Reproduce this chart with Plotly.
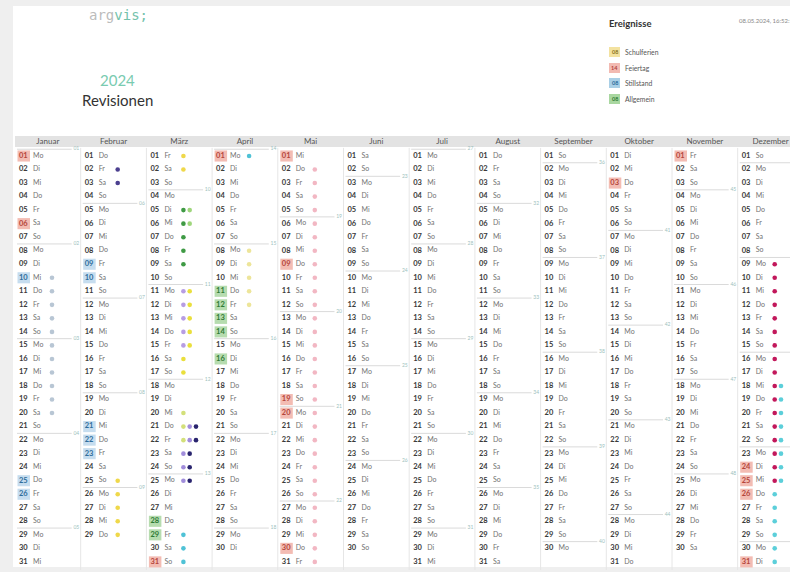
import datetime as dt
import plotly.graph_objects as go

YEAR = 2024
month_names = ["Januar", "Februar", "März", "April", "Mai", "Juni", "Juli",
               "August", "September", "Oktober", "November", "Dezember"]
weekday_names = ["Mo", "Di", "Mi", "Do", "Fr", "Sa", "So"]

# highlighted days (month, day)
feiertag_days = [(1, 1), (1, 6), (3, 31), (4, 1), (5, 1), (5, 9), (5, 19), (5, 20), (5, 30),
                 (10, 3), (11, 1), (12, 24), (12, 25), (12, 26), (12, 31)]
stillstand_days = [(1, 10), (1, 25), (1, 26), (2, 9), (2, 10), (2, 21), (2, 22), (2, 23)]
allgemein_days = [(3, 28), (3, 29), (4, 11), (4, 12), (4, 13), (4, 14), (4, 16)]
schulferien_days = []

# revision events (dots)
event_start = [(1, 10), (2, 2), (2, 25), (3, 1), (3, 5), (3, 5), (3, 11), (3, 11), (3, 20),
               (3, 21), (3, 21), (3, 29), (4, 8), (5, 2), (12, 9), (12, 18)]
event_end = [(1, 20), (2, 3), (2, 29), (3, 2), (3, 9), (3, 6), (3, 15), (3, 17), (3, 22),
             (3, 25), (3, 25), (4, 1), (4, 12), (5, 31), (12, 25), (12, 31)]
event_color = ["#b8c6d4", "#4b3f8f", "#efd84a", "#efd84a", "#3f9a44", "#9fd67c", "#b79de3",
               "#eadf3c", "#d3e07a", "#a18ddb", "#29246e", "#4fc2d6", "#ede59a", "#f2b7c3",
               "#c2185b", "#5ccfda"]

legend_labels = ["Schulferien", "Feiertag", "Stillstand", "Allgemein"]
legend_numbers = ["08", "14", "08", "08"]
legend_colors = ["#f3e2a0", "#f2bab2", "#a9cfe6", "#a9d7a0"]
legend_text_colors = ["#8a7420", "#b0413a", "#2a6c9c", "#2e7a35"]

timestamp = "08.05.2024, 16:52:10"

# ---------- geometry ----------
W, H = 790, 572
X0, COLW = 15.0, 65.7
Y1, ROWH = 156.0, 13.53

def px(p):
    return p / COLW

cat_bg = {"F": "#f3bcb3", "S": "#c6ddef", "A": "#b6dcaf", "U": "#f3e2a0"}
cat_txt = {"F": "#b5453b", "S": "#2f6d9c", "A": "#2f7a35", "U": "#8a7420"}
cat_of = {}
for md in feiertag_days:
    cat_of[md] = "F"
for md in stillstand_days:
    cat_of[md] = "S"
for md in allgemein_days:
    cat_of[md] = "A"
for md in schulferien_days:
    cat_of[md] = "U"

shapes = []
# white panel
shapes.append(dict(type="rect", xref="paper", yref="paper", x0=13 / W, x1=1,
                   y0=1 - 567 / H, y1=1 - 6 / H, fillcolor="white", line_width=0, layer="below"))
# month header band
shapes.append(dict(type="rect", xref="x", yref="y", x0=0, x1=12, y0=-0.48, y1=0.34,
                   fillcolor="#e3e3e3", line_width=0, layer="below"))
# vertical separators
for m in range(1, 12):
    shapes.append(dict(type="line", xref="x", yref="y", x0=m, x1=m, y0=0.4, y1=31.6,
                       line=dict(color="#e6e6e6", width=1), layer="below"))

num_x, num_y, num_t, num_c = [], [], [], []
wd_x, wd_y, wd_t = [], [], []
dot_x, dot_y, dot_c = [], [], []
wl_x, wl_y = [], []
wk_x, wk_y, wk_t = [], [], []

for m in range(12):
    d = dt.date(YEAR, m + 1, 1)
    while d.month == m + 1:
        day = d.day
        key = (m + 1, day)
        num_x.append(m + px(4))
        num_y.append(day)
        num_t.append(f"{day:02d}")
        wd_x.append(m + px(18))
        wd_y.append(day)
        wd_t.append(weekday_names[d.weekday()])
        if key in cat_of:
            c = cat_of[key]
            shapes.append(dict(type="rect", xref="x", yref="y", x0=m + px(2.5), x1=m + px(15),
                               y0=day - 0.41, y1=day + 0.41, fillcolor=cat_bg[c],
                               line_width=0, layer="below"))
            num_c.append(cat_txt[c])
        else:
            num_c.append("#3a3a3a")
        k = 0
        for s, e, col in zip(event_start, event_end, event_color):
            if s <= key <= e:
                dot_x.append(m + px(37 + 6.3 * k))
                dot_y.append(day)
                dot_c.append(col)
                k += 1
        # week separators
        if d.weekday() == 0:
            yb = day - 0.5
            wl_x += [m + px(2), m + 1 - px(9), None]
            wl_y += [yb, yb, None]
            wk_x.append(m + 1 - px(1.5))
            wk_y.append(yb)
            wk_t.append(f"{d.isocalendar()[1]:02d}")
        d += dt.timedelta(days=1)

FONT = "Lato"
traces = [
    go.Scatter(x=wl_x, y=wl_y, mode="lines", line=dict(color="#dadada", width=1),
               hoverinfo="skip"),
    go.Scatter(x=wk_x, y=wk_y, mode="text", text=wk_t, textposition="middle left",
               textfont=dict(family=FONT, size=5, color="#9dbfbd"), hoverinfo="skip"),
    go.Scatter(x=num_x, y=num_y, mode="text", text=num_t, textposition="middle right",
               textfont=dict(family=FONT, size=7.5, color=num_c, weight="bold"), hoverinfo="skip"),
    go.Scatter(x=wd_x, y=wd_y, mode="text", text=wd_t, textposition="middle right",
               textfont=dict(family=FONT, size=7, color="#727272"), hoverinfo="skip"),
    go.Scatter(x=dot_x, y=dot_y, mode="markers",
               marker=dict(size=4.6, color=dot_c, line_width=0), hoverinfo="skip"),
    go.Scatter(x=[m + 0.5 for m in range(12)], y=[-0.07] * 12, mode="text", text=month_names,
               textposition="middle center", textfont=dict(family=FONT, size=8, color="#555"),
               hoverinfo="skip"),
]

fig = go.Figure(traces)

annotations = [
    dict(x=118 / W, y=1 - 15 / H, xref="paper", yref="paper", showarrow=False,
         text='<span style="color:#bcbcbc">arg</span><span style="color:#74c2ab">vis;</span>',
         font=dict(family="DejaVu Sans Mono", size=14), xanchor="center", yanchor="middle"),
    dict(x=117 / W, y=1 - 80 / H, xref="paper", yref="paper", showarrow=False, text="2024",
         font=dict(family=FONT, size=15, color="#79cbb0"), xanchor="center", yanchor="middle"),
    dict(x=117 / W, y=1 - 100 / H, xref="paper", yref="paper", showarrow=False, text="Revisionen",
         font=dict(family=FONT, size=15, color="#333"), xanchor="center", yanchor="middle"),
    dict(x=607 / W, y=1 - 23 / H, xref="paper", yref="paper", showarrow=False, text="<b>Ereignisse</b>",
         font=dict(family=FONT, size=9.5, color="#333"), xanchor="left", yanchor="middle"),
    dict(x=737 / W, y=1 - 20 / H, xref="paper", yref="paper", showarrow=False, text=timestamp,
         font=dict(family=FONT, size=6, color="#888"), xanchor="left", yanchor="middle"),
]
legend_y = [52, 68, 83, 99]
for lab, num, col, tcol, ly in zip(legend_labels, legend_numbers, legend_colors,
                                   legend_text_colors, legend_y):
    shapes.append(dict(type="rect", xref="paper", yref="paper", x0=609 / W, x1=620 / W,
                       y0=1 - (ly + 5) / H, y1=1 - (ly - 5) / H, fillcolor=col, line_width=0))
    annotations.append(dict(x=614.5 / W, y=1 - ly / H, xref="paper", yref="paper", showarrow=False,
                            text=f"<b>{num}</b>", font=dict(family=FONT, size=5.5, color=tcol),
                            xanchor="center", yanchor="middle"))
    annotations.append(dict(x=623 / W, y=1 - ly / H, xref="paper", yref="paper", showarrow=False,
                            text=lab, font=dict(family=FONT, size=6.8, color="#555"),
                            xanchor="left", yanchor="middle"))

fig.update_layout(
    width=W, height=H, margin=dict(l=0, r=0, t=0, b=0),
    paper_bgcolor="#efefef", plot_bgcolor="rgba(0,0,0,0)", showlegend=False,
    xaxis=dict(range=[-X0 / COLW, (W - X0) / COLW], visible=False, fixedrange=True),
    yaxis=dict(range=[1 + (H - Y1) / ROWH, 1 - Y1 / ROWH], visible=False, fixedrange=True),
    shapes=shapes, annotations=annotations,
)
fig.write_html(
    "out.html",
    config={"displayModeBar": False},
    post_script="document.body.style.margin='0';document.body.style.background='#efefef';"
                "document.body.style.overflow='hidden';",
)
